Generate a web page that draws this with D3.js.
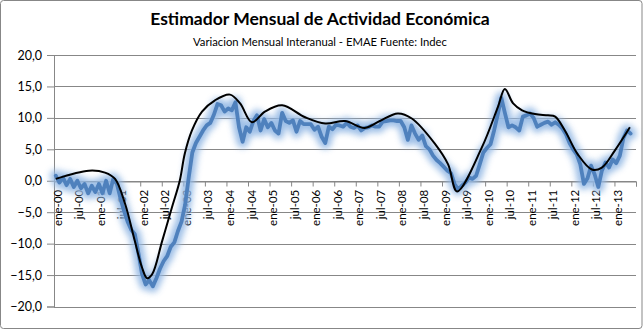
<!DOCTYPE html>
<html>
<head>
<meta charset="utf-8">
<script src="https://cdn.jsdelivr.net/npm/d3@7"></script>
<style>
  html, body { margin: 0; padding: 0; background: #fff; }
  svg { display: block; }
  text { font-family: Lato, "Open Sans", sans-serif; fill: #000; }
</style>
</head>
<body>
<svg id="chart" width="643" height="330"></svg>
<script>
// ---- data ----
const titleText = "Estimador Mensual de Actividad Económica";
const subtitleText = "Variacion Mensual Interanual - EMAE Fuente: Indec";

const tickLabels = ["ene-00","jul-00","ene-01","jul-01","ene-02","jul-02","ene-03","jul-03",
  "ene-04","jul-04","ene-05","jul-05","ene-06","jul-06","ene-07","jul-07","ene-08","jul-08",
  "ene-09","jul-09","ene-10","jul-10","ene-11","jul-11","ene-12","jul-12","ene-13"];

const yTicks = [-20, -15, -10, -5, 0, 5, 10, 15, 20];

// monthly interannual variation, ene-00 .. may-13
const emaeValues = [
  0.8, -0.3, 0.5, -0.7, 0.3, -1.0, 0.0, -1.2, -0.5, -2.0, -0.8, -1.8,
  -0.5, -2.0, 0.0, -2.0, 0.3, -0.5, -2.8, -4.8, -6.5, -7.8, -8.5, -11.5,
  -14.8, -16.5, -15.8, -16.8, -15.5, -14.0, -12.8, -12.0, -10.5, -9.8, -8.0, -6.5,
  -3.8, 0.5, 4.5, 6.0, 7.0, 8.0, 8.8, 9.2, 10.5, 12.2, 12.0, 11.0,
  11.5, 11.2, 12.5, 8.5, 6.2, 8.5, 7.8, 9.5, 10.4, 8.0, 9.8, 8.5,
  9.2, 8.0, 7.5, 10.8, 9.5, 9.2, 9.6, 7.8, 9.5, 9.0, 9.0, 9.0,
  8.1, 8.6, 7.0, 6.0, 8.6, 8.2, 8.9, 8.8, 8.6, 9.2, 8.6, 8.4,
  8.8, 8.0, 8.4, 8.5, 8.8, 8.6, 8.6, 9.4, 9.5, 9.6, 9.6, 9.5,
  9.5, 8.5, 6.5, 8.8, 7.5, 6.5, 7.2, 5.5, 5.0, 4.0, 3.3, 2.8,
  2.2, 1.6, 1.2, -0.5, -1.4, -0.8, -0.3, 0.5, 0.3, 0.8, 2.6, 4.5,
  5.2, 5.8, 8.0, 10.5, 13.2, 10.8, 8.5, 8.8, 8.5, 8.0, 10.2, 10.4,
  10.7, 10.0, 8.6, 8.9, 9.2, 9.4, 8.9, 9.3, 8.9, 8.3, 7.4, 6.0,
  5.0, 4.2, 2.6, -0.5, 0.4, 2.4, 1.0, -1.0, 1.6, 2.9, 2.1, 3.4,
  2.8, 4.0, 6.8, 8.0, 7.5
];

// smoothed trend, read at knots (month index, value)
const trendMonths = [0, 9.2, 13.7, 16.5, 19.3, 22, 24, 25.4, 26.8, 29.6, 32.3, 34.5, 35.9, 37.9,
  40.7, 44.3, 48.5, 51.3, 54.6, 58.2, 63, 69.4, 75, 80.5, 86, 90.2, 95.2, 99.1, 105.5, 109.2,
  111.7, 118.6, 123.1, 125, 127.3, 129.8, 133.4, 137, 139, 141.7, 145.3, 149.2, 152, 155.6, 159.8];
const trendValues = [0.3, 1.6, 1.3, 0.3, -3.7, -9.6, -13.8, -15.5, -14.9, -9.6, -4.3, 0, 4.3, 8,
  11, 12.8, 13.7, 12.3, 9.3, 11, 12, 10.1, 9.1, 9.5, 8.4, 9.5, 10.7, 9.9, 5.9, 2.6,
  -1.7, 5.3, 11.8, 14.6, 12.3, 11.2, 10.6, 10.4, 10.2, 8, 4.2, 1.8, 2.1, 4.8, 8.5];

// ---- layout ----
const svg = d3.select("#chart");
const W = 643, H = 330;
const plot = { left: 54, right: 636, top: 55, bottom: 306.5 };
const nSlots = 162;

const x = d3.scaleLinear().domain([0, nSlots]).range([plot.left, plot.right]);
const y = d3.scaleLinear().domain([-20, 20]).range([plot.bottom, plot.top]);
const gridColor = "#878787";

// outer border
svg.append("rect").attr("x", 0.5).attr("y", 0.5).attr("width", W - 1.5).attr("height", H - 2)
  .attr("rx", 3).attr("fill", "#fff").attr("stroke", gridColor);

// title (fit to measured width of reference)
function fitText(sel, targetW) {
  const n = sel.node();
  const fs = parseFloat(sel.attr("font-size"));
  const w = n.getComputedTextLength();
  sel.attr("font-size", (fs * targetW / w).toFixed(2));
}
const t1 = svg.append("text").attr("x", 320).attr("y", 25).attr("text-anchor", "middle")
  .attr("font-weight", "bold").attr("font-size", 20).text(titleText);
fitText(t1, 340);
const t2 = svg.append("text").attr("x", 320).attr("y", 45.5).attr("text-anchor", "middle")
  .attr("font-size", 11).text(subtitleText);
fitText(t2, 254);

// y axis
const yAxis = d3.axisLeft(y).tickValues(yTicks).tickSize(7).tickPadding(5)
  .tickFormat(d => d3.format(".1f")(d).replace(".", ","));
const gy = svg.append("g").attr("transform", `translate(${plot.left},0)`).call(yAxis);
gy.select(".domain").attr("stroke", gridColor);
gy.selectAll(".tick line").attr("stroke", gridColor);
gy.selectAll(".tick text").attr("font-size", 12.5).attr("font-family", "Lato, sans-serif").attr("fill", "#000");

// horizontal gridlines
svg.append("g").selectAll("line").data(yTicks).join("line")
  .attr("x1", plot.left).attr("x2", plot.right)
  .attr("y1", d => Math.round(y(d)) + 0.5).attr("y2", d => Math.round(y(d)) + 0.5)
  .attr("stroke", gridColor).attr("stroke-width", 1);

// x axis at 0
const tickIdx = d3.range(0, nSlots + 1, 6);
const xAxis = d3.axisBottom(x).tickValues(tickIdx).tickSize(5).tickFormat("");
const gx = svg.append("g").attr("transform", `translate(0,${Math.round(y(0)) + 0.5})`).call(xAxis);
gx.select(".domain").attr("stroke", gridColor);
gx.selectAll(".tick line").attr("stroke", gridColor);

svg.append("g").selectAll("text").data(tickLabels).join("text")
  .attr("transform", (d, i) => `translate(${x(i * 6) + 3.5},${y(0) + 9}) rotate(-90)`)
  .attr("text-anchor", "end").attr("dy", "0.35em")
  .attr("font-size", 11.5).text(d => d);

// glow filter
const defs = svg.append("defs");
const f = defs.append("filter").attr("id", "glow").attr("x", "-10%").attr("y", "-10%")
  .attr("width", "120%").attr("height", "120%");
f.append("feGaussianBlur").attr("stdDeviation", 3);

const line = d3.line().x((d, i) => x(i + 0.5)).y(d => y(d));

svg.append("path").datum(emaeValues).attr("d", line)
  .attr("fill", "none").attr("stroke", "#93B8E4").attr("stroke-width", 12)
  .attr("stroke-linejoin", "round").attr("stroke-linecap", "round")
  .attr("filter", "url(#glow)").attr("opacity", 0.9);
svg.append("path").datum(emaeValues).attr("d", line)
  .attr("fill", "none").attr("stroke", "#4F81BD").attr("stroke-width", 3.8)
  .attr("stroke-linejoin", "round").attr("stroke-linecap", "round");

// trend
const trend = trendMonths.map((m, i) => [m, trendValues[i]]);
const tline = d3.line().x(d => x(d[0] + 0.5)).y(d => y(d[1])).curve(d3.curveCatmullRom.alpha(0.5));
svg.append("path").datum(trend).attr("d", tline)
  .attr("fill", "none").attr("stroke", "#000").attr("stroke-width", 2);
</script>
</body>
</html>
